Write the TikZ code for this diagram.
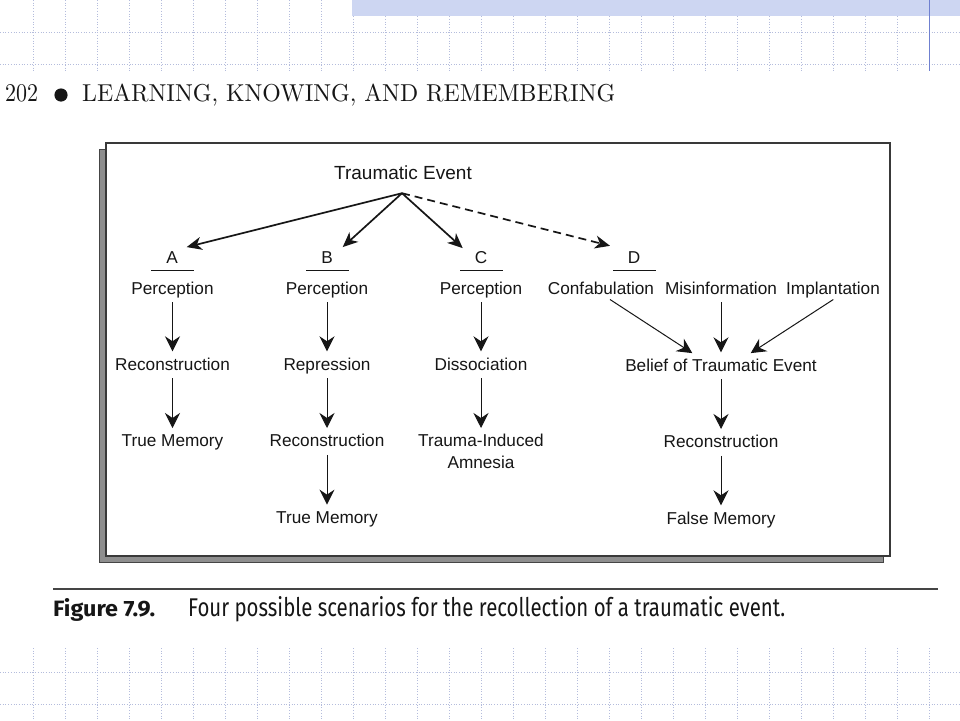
\documentclass[tikz,border=0pt]{standalone}
\usepackage{fontspec}
\usetikzlibrary{arrows.meta,calc}
\newfontfamily\diag{Liberation Sans}
\newfontfamily\capfont{Fira Sans}
\definecolor{ink}{HTML}{161616}
\definecolor{gridc}{HTML}{B4BCDC}
\definecolor{bandc}{HTML}{CDD6F2}
\definecolor{bluel}{HTML}{6F80D0}
\definecolor{shadowc}{HTML}{8E8E8E}
\begin{document}
\begin{tikzpicture}[x=1pt,y=-1pt,
  lbl/.style={font=\diag\fontsize{17.2}{20}\selectfont, inner sep=0pt,
    text height=12.5pt, text depth=4pt, anchor=base, text=ink},
  ttl/.style={font=\diag\fontsize{19}{22}\selectfont, inner sep=0pt,
    text height=14pt, text depth=4pt, anchor=base, text=ink},
  toparrow/.style={draw=ink, line width=1.7pt,
    -{Stealth[length=15pt,width=13pt,inset=4.5pt]}},
  downarrow/.style={draw=ink, line width=1pt,
    -{Stealth[length=15pt,width=15pt,inset=5pt]},
    shorten <=4pt, shorten >=6pt},
  diagarrow/.style={draw=ink, line width=1pt,
    -{Stealth[length=15pt,width=15pt,inset=5pt]}},
  uline/.style={draw=ink, line width=0.9pt},
  gridline/.style={draw=gridc, line width=0.7pt, dotted}
]
% page
\useasboundingbox (0,0) rectangle (960,720);
\fill[white] (0,0) rectangle (960,720);
% grid
\foreach \k in {0,...,28} {
  \draw[gridline] ({33+32*\k},0) -- ({33+32*\k},71);
  \draw[gridline] ({33+32*\k},648) -- ({33+32*\k},720);
}
\foreach \yy in {32,64,672,704} {
  \draw[gridline] (0,\yy) -- (960,\yy);
}
\fill[bandc] (352,0) rectangle (960,15.7);
\draw[bluel, line width=1pt] (929,0) -- (929,71);

% header
\node[anchor=base west, inner sep=0pt, text=ink] (pagenum) at (5,101)
  {\resizebox{33pt}{17pt}{202}};
\fill[ink] (61,95) circle (6.6);
\node[anchor=base west, inner sep=0pt, text=ink] (runhead) at (82,101)
  {\resizebox{533pt}{17.5pt}{LEARNING, KNOWING, AND REMEMBERING}};

% frame with shadow
\draw[draw=ink!80, fill=shadowc, line width=0.8pt] (99,149) rectangle (883,562);
\draw[draw=ink!85, fill=white, line width=1.4pt] (106,143) rectangle (890,556);

% rule and caption
\draw[ink!80, line width=1.8pt] (53,589) -- (938,589);
\node[anchor=base west, inner sep=0pt, text=ink] (figlabel) at (53,616)
  {\resizebox{102pt}{18pt}{\capfont\bfseries Figure 7.9.}};
\node[anchor=base west, inner sep=0pt, text=ink] (figcap) at (188,616)
  {\resizebox{597pt}{20pt}{\capfont Four possible scenarios for the recollection of a traumatic event.}};

% diagram nodes
\node[ttl] (te) at (403,179) {Traumatic Event};
\coordinate (apex) at ($(te.south)+(-1,10)$);

\node[lbl] (lA) at (172,263.3) {A};
\node[lbl] (lB) at (327,263.3) {B};
\node[lbl] (lC) at (481,263.3) {C};
\node[lbl] (lD) at (634,263.3) {D};
\foreach \n in {lA,lB,lC,lD} {
  \draw[uline] ($(\n.base)+(-21,7.5)$) -- ($(\n.base)+(22,7.5)$);
}

\node[lbl] (pA) at (172.5,294) {Perception};
\node[lbl] (pB) at (327,294) {Perception};
\node[lbl] (pC) at (481,294) {Perception};
\node[lbl] (conf) at (601,294) {Confabulation};
\node[lbl] (mis) at (721,294) {Misinformation};
\node[lbl] (impl) at (833,294) {Implantation};

\node[lbl] (rA) at (172.5,370) {Reconstruction};
\node[lbl] (repB) at (327,370) {Repression};
\node[lbl] (disC) at (481,370) {Dissociation};
\node[lbl] (belief) at (721,371) {Belief of Traumatic Event};

\node[lbl] (tmA) at (172.5,446.7) {True Memory};
\node[lbl] (rB) at (327,446.7) {Reconstruction};
\node[lbl] (tiC) at (481,446.7) {Trauma-Induced};
\node[lbl] (amC) at (481,468.3) {Amnesia};
\node[lbl] (rD) at (721,447.7) {Reconstruction};

\node[lbl] (tmB) at (327,523.3) {True Memory};
\node[lbl] (fm) at (721,524) {False Memory};

% top arrows
\draw[toparrow] (apex) -- ($(lA.north)+(14.7,-3.5)$);
\draw[toparrow] (apex) -- ($(lB.north)+(15.7,-3.5)$);
\draw[toparrow] (apex) -- ($(lC.north)+(-18.3,-2.5)$);
\draw[toparrow, dash pattern=on 8pt off 5pt] (apex) -- ($(lD.north)+(-24,-4.8)$);

% vertical arrows
\draw[downarrow] (pA.south) -- (rA.north);
\draw[downarrow] (rA.south) -- (tmA.north);
\draw[downarrow] (pB.south) -- (repB.north);
\draw[downarrow] (repB.south) -- (rB.north);
\draw[downarrow] (rB.south) -- (tmB.north);
\draw[downarrow] (pC.south) -- (disC.north);
\draw[downarrow] (disC.south) -- (tiC.north);
\draw[downarrow] (mis.south) -- (belief.north);
\draw[downarrow] (belief.south) -- (rD.north);
\draw[downarrow] (rD.south) -- (fm.north);

% diagonal arrows
\draw[diagarrow] ($(conf.south)+(9,1.3)$) -- ($(belief.north)+(-28.7,-5.2)$);
\draw[diagarrow] ($(impl.south)+(0.3,1.3)$) -- ($(belief.north)+(29.7,-5.2)$);
\end{tikzpicture}
\end{document}
